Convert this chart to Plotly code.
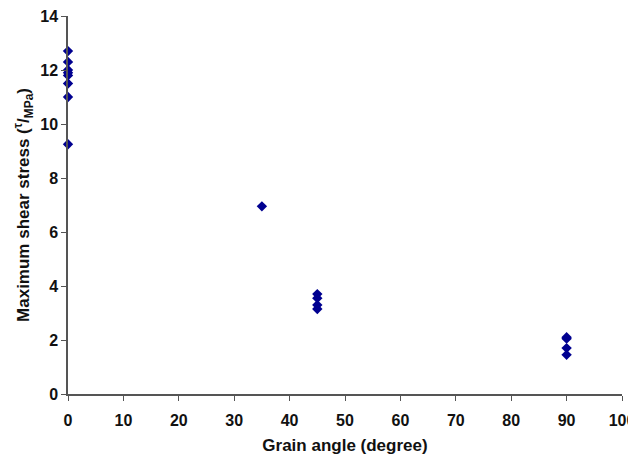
import plotly.graph_objects as go

grain_angle = [0, 0, 0, 0, 0, 0, 0, 0, 35, 45, 45, 45, 45, 90, 90, 90, 90]
max_shear = [12.7, 12.3, 12.0, 11.9, 11.8, 11.5, 11.0, 9.25, 6.95, 3.7, 3.55, 3.3, 3.15, 2.1, 2.05, 1.7, 1.45]

x_ticks = list(range(0, 101, 10))
y_ticks = list(range(0, 15, 2))

fig = go.Figure()
fig.add_trace(go.Scatter(
    x=grain_angle, y=max_shear, mode="markers",
    marker=dict(symbol="diamond", size=8, color="#000090"),
    cliponaxis=False, showlegend=False,
))

axis_font = dict(family="Liberation Sans, Arial", size=16, color="#111111")
fig.update_layout(
    width=628, height=447,
    margin=dict(l=60, r=14, t=8, b=61),
    paper_bgcolor="white", plot_bgcolor="white",
    font=dict(family="Liberation Sans, Arial", color="#111111"),
    xaxis=dict(
        range=[0, 100], tickvals=x_ticks, automargin=False,
        ticktext=[f"<b>{v}</b>" for v in x_ticks],
        showgrid=False, zeroline=False, showline=True, linecolor="#555555", linewidth=1.5,
        ticks="outside", ticklen=5, tickcolor="#555555", tickfont=axis_font,
        ticklabelstandoff=6, ticklabeloverflow="allow",
        title=dict(text="<b>Grain angle (degree)</b>", font=dict(size=17), standoff=19),
    ),
    yaxis=dict(
        range=[0, 14], tickvals=y_ticks, automargin=False,
        ticktext=[f"<b>{v}</b>" for v in y_ticks],
        showgrid=False, zeroline=False, showline=True, linecolor="#555555", linewidth=1.5,
        ticks="outside", ticklen=5, tickcolor="#555555", tickfont=axis_font,
        ticklabeloverflow="allow",
        title=dict(text="<b>Maximum shear stress (<sup>τ</sup>/<sub>MPa</sub>)</b>", font=dict(size=17), standoff=6),
    ),
)

fig.write_html("out.html")
